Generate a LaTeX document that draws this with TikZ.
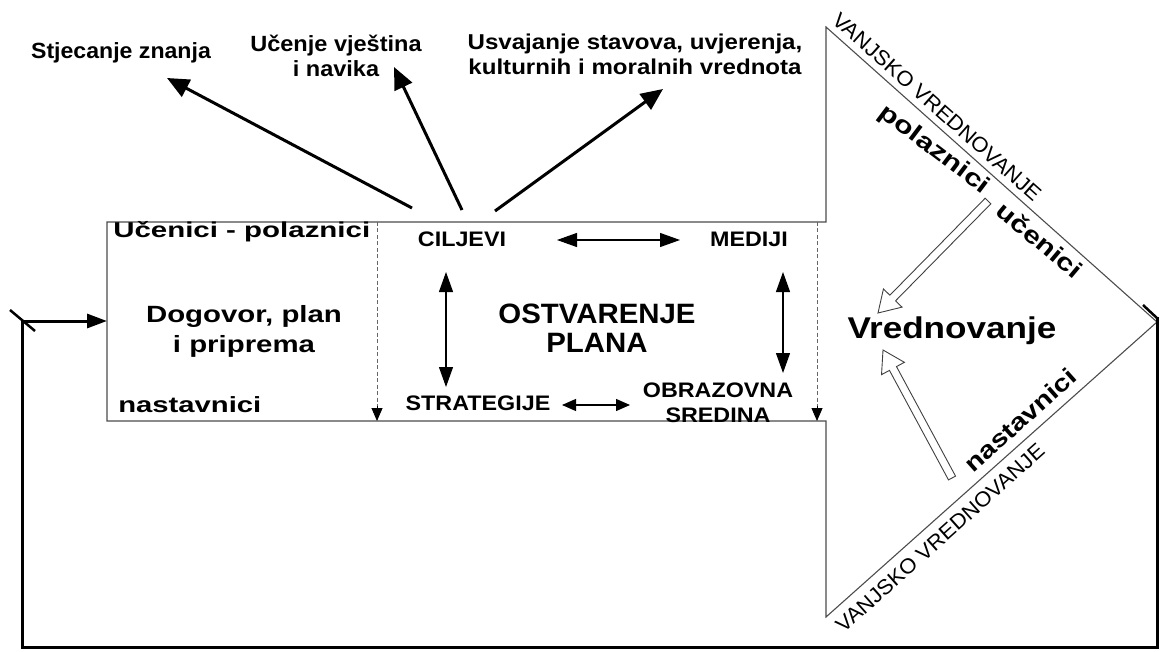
\documentclass[tikz,border=0pt]{standalone}
\usepackage{fontspec}
\usepackage{graphicx}
\setmainfont{Liberation Sans}
\usetikzlibrary{arrows.meta,calc}
\begin{document}
\begin{tikzpicture}[x=1pt,y=-1pt,
  outline/.style={draw=black!70, line width=1.1pt, line join=miter},
  bigarrow/.style={line width=3pt, -{Triangle[length=22pt,width=19pt]}},
  loopline/.style={line width=3pt, line join=miter, -{Triangle[length=20pt,width=14pt]}},
  dbl/.style={line width=1.2pt, {Triangle[length=20pt,width=14pt]}-{Triangle[length=20pt,width=14pt]}},
  dblsmall/.style={line width=1.2pt, {Triangle[length=14pt,width=12pt]}-{Triangle[length=14pt,width=12pt]}},
  dashline/.style={draw=black!60, line width=0.9pt, dash pattern=on 4pt off 2.5pt},
  dashtip/.style={line width=0.9pt, -{Triangle[length=13pt,width=11pt]}},
  hollow/.style={draw=black!75, line width=0.9pt, fill=white, line join=miter},
  lab/.style={inner sep=0pt, font=\bfseries\fontsize{22}{25}\selectfont},
  vanj/.style={inner sep=0pt, font=\fontsize{21}{24}\selectfont},
  rotb/.style={inner sep=0pt, font=\bfseries\fontsize{24}{27}\selectfont},
]
\useasboundingbox (0,0) rectangle (1161,652);

% ---- main arrow-shaped outline ----
\coordinate (rTL) at (107,222);
\coordinate (rTR) at (826,222);
\coordinate (aTop) at (826,27);
\coordinate (aTip) at (1157,322);
\coordinate (aBot) at (826,617);
\coordinate (rBR) at (826,421);
\coordinate (rBL) at (107,421);
\draw[outline] (rTL) -- (rTR) -- (aTop) -- (aTip) -- (aBot) -- (rBR) -- (rBL) -- cycle;

% ---- dashed dividers ----
\coordinate (d1t) at (377,222); \coordinate (d1m) at (377,406); \coordinate (d1b) at (377,421);
\coordinate (d2t) at (817,222); \coordinate (d2m) at (817,406); \coordinate (d2b) at (817,421);
\draw[dashline] (d1t) -- (d1m);
\draw[dashline] (d2t) -- (d2m);
\draw[dashtip] (d1m) -- (d1b);
\draw[dashtip] (d2m) -- (d2b);

% ---- feedback loop ----
\coordinate (f0) at (1157,317);
\coordinate (f1) at (1157,647);
\coordinate (f2) at (22,647);
\coordinate (f3) at (22,321);
\coordinate (rIn) at (107,321);
\draw[loopline] (f0) -- (f1) -- (f2) -- (f3) -- (rIn);
\coordinate (t1a) at (10,310); \coordinate (t1b) at (35,331);
\draw[line width=2.5pt] (t1a) -- (t1b);
\coordinate (t2a) at (1143,305); \coordinate (t2b) at (1158,319);
\draw[line width=2.5pt] (t2a) -- (t2b);

% ---- top labels ----
\node[lab, anchor=base, xscale=1.05] (stj) at (121,59) {Stjecanje znanja};
\node[lab, anchor=base, align=center, xscale=1.07] (ucv) at (336,77) {Učenje vještina\\i navika};
\node[lab, anchor=base, align=center, xscale=1.12, font=\bfseries\fontsize{21.5}{25}\selectfont] (usv) at (635,75) {Usvajanje stavova, uvjerenja,\\kulturnih i moralnih vrednota};

\coordinate (a1s) at (412,208); \coordinate (a1e) at (167,78);
\coordinate (a2s) at (462,210); \coordinate (a2e) at (394,67);
\coordinate (a3s) at (495,211); \coordinate (a3e) at (663,89);
\draw[bigarrow] (a1s) -- (a1e);
\draw[bigarrow] (a2s) -- (a2e);
\draw[bigarrow] (a3s) -- (a3e);

% ---- left part ----
\node[lab, anchor=base west, xscale=1.37, font=\bfseries\fontsize{21.5}{24}\selectfont] (ucp) at (113,238) {Učenici - polaznici};
\node[lab, anchor=base, align=center, xscale=1.25, font=\bfseries\fontsize{23.5}{30}\selectfont] (dog) at (244,352) {Dogovor, plan\\i priprema};
\node[lab, anchor=base west, xscale=1.33] (nast) at (118,412) {nastavnici};

% ---- middle part ----
\node[lab, anchor=base, xscale=1.11, font=\bfseries\fontsize{21}{25}\selectfont] (cil) at (462,247) {CILJEVI};
\node[lab, anchor=base, xscale=1.11, font=\bfseries\fontsize{21}{25}\selectfont] (med) at (749,247) {MEDIJI};
\node[lab, anchor=base, align=center, xscale=1.05, font=\bfseries\fontsize{28}{29}\selectfont] (ost) at (597,352) {OSTVARENJE\\PLANA};
\node[lab, anchor=base, xscale=1.11, font=\bfseries\fontsize{21}{25}\selectfont] (str) at (478,410) {STRATEGIJE};
\node[lab, anchor=base, align=center, xscale=1.11, font=\bfseries\fontsize{21}{25}\selectfont] (obr) at (718,422) {OBRAZOVNA\\SREDINA};

\coordinate (h1a) at (557,240); \coordinate (h1b) at (680,240);
\coordinate (v1a) at (446,272); \coordinate (v1b) at (446,387);
\coordinate (v2a) at (783,272); \coordinate (v2b) at (783,373);
\coordinate (h2a) at (562,405); \coordinate (h2b) at (630,405);
\draw[dbl] (h1a) -- (h1b);
\draw[dbl] (v1a) -- (v1b);
\draw[dbl] (v2a) -- (v2b);
\draw[dblsmall] (h2a) -- (h2b);

% ---- right (evaluation) part ----
\node[vanj, rotate=-41.7] (vv1) at (937,107) {\scalebox{1.05}[1]{VANJSKO VREDNOVANJE}};
\node[vanj, rotate=41.7] (vv2) at (940,538) {\scalebox{1.05}[1]{VANJSKO VREDNOVANJE}};
\node[rotb, rotate=-37] (pol) at (934,150) {\scalebox{1.28}[1]{polaznici}};
\node[rotb, rotate=-40] (uce) at (1040,240) {\scalebox{1.25}[1]{učenici}};
\node[rotb, rotate=41.7] (nas2) at (1020,420) {\scalebox{1.2}[1]{nastavnici}};
\node[lab, anchor=base, xscale=1.17, font=\bfseries\fontsize{30}{34}\selectfont] (vred) at (952,338) {Vrednovanje};

% hollow arrows
\coordinate (ht1) at (988,201); \coordinate (hh1) at (878,313);
\coordinate (hn1) at ($(hh1)!21pt!(ht1)$);
\draw[hollow] ($(ht1)!4pt!90:(hh1)$) -- ($(hn1)!4pt!90:(hh1)$) -- ($(hn1)!13pt!90:(hh1)$) -- (hh1)
  -- ($(hn1)!13pt!-90:(hh1)$) -- ($(hn1)!4pt!-90:(hh1)$) -- ($(ht1)!4pt!-90:(hh1)$) -- cycle;
\coordinate (ht2) at (952,478); \coordinate (hh2) at (883,350);
\coordinate (hn2) at ($(hh2)!21pt!(ht2)$);
\draw[hollow] ($(ht2)!4pt!90:(hh2)$) -- ($(hn2)!4pt!90:(hh2)$) -- ($(hn2)!13pt!90:(hh2)$) -- (hh2)
  -- ($(hn2)!13pt!-90:(hh2)$) -- ($(hn2)!4pt!-90:(hh2)$) -- ($(ht2)!4pt!-90:(hh2)$) -- cycle;
\end{tikzpicture}
\end{document}
